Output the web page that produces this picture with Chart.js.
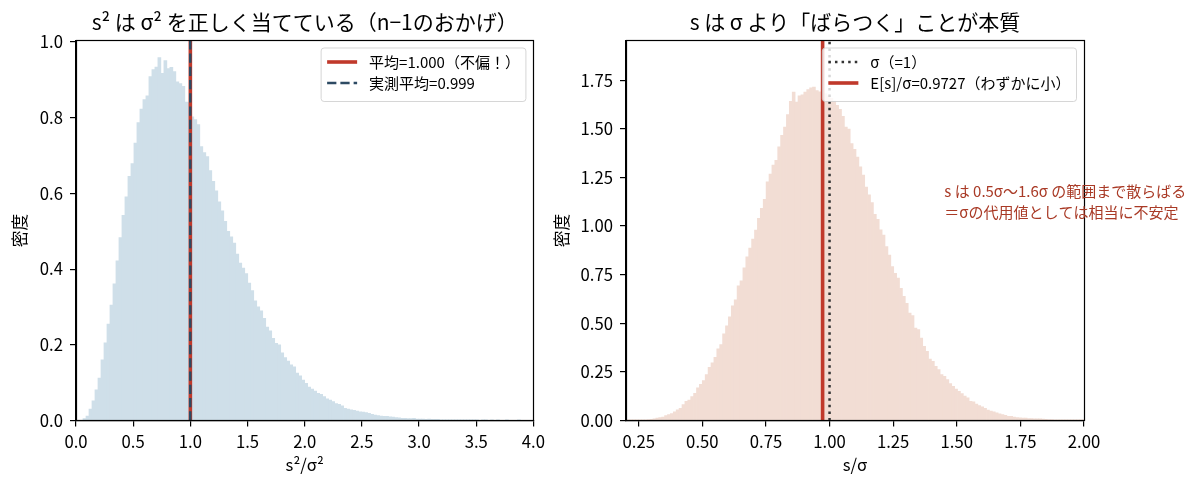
<!DOCTYPE html>
<html lang="ja">
<head>
<meta charset="utf-8">
<script src="https://cdn.jsdelivr.net/npm/chart.js@4.4.1/dist/chart.umd.min.js"></script>
<style>
  body { margin: 0; background: #fff; }
  #wrap { position: relative; width: 1204px; height: 491px; }
  canvas { position: absolute; top: 0; }
  #leftChart { left: 0; }
  #rightChart { left: 550px; }
</style>
</head>
<body>
<div id="wrap">
  <canvas id="leftChart" width="550" height="491"></canvas>
  <canvas id="rightChart" width="654" height="491"></canvas>
</div>
<script>
const FONT = "'Noto Sans CJK JP', 'Noto Sans', sans-serif";

// left panel: s^2/sigma^2 histogram (density), bins of equal width
const s2BinStart = 0.061;
const s2BinWidth = 0.0262;
const s2Density = [
  0.005, 0.012, 0.030, 0.052, 0.081, 0.112, 0.160, 0.205, 0.255, 0.305, 0.361, 0.422, 0.483,
  0.542, 0.591, 0.645, 0.679, 0.733, 0.787, 0.823, 0.848, 0.858, 0.909, 0.927, 0.934, 0.959,
  0.917, 0.951, 0.930, 0.933, 0.922, 0.895, 0.890, 0.883, 0.841, 0.840, 0.802, 0.795, 0.782,
  0.724, 0.708, 0.697, 0.660, 0.632, 0.607, 0.578, 0.554, 0.526,
  0.500, 0.485, 0.469, 0.440, 0.416, 0.403, 0.388, 0.363, 0.343, 0.316, 0.300, 0.290,
  0.270, 0.247, 0.237, 0.217, 0.204, 0.200, 0.179, 0.166, 0.157, 0.147, 0.142, 0.125,
  0.118, 0.107, 0.098, 0.088, 0.083, 0.078, 0.072, 0.069, 0.063, 0.057,
  0.054, 0.050, 0.045, 0.043, 0.039, 0.032, 0.030, 0.028, 0.027, 0.025,
  0.023, 0.022, 0.021, 0.019, 0.016, 0.014, 0.013, 0.012, 0.011, 0.011,
  0.010, 0.009, 0.008, 0.007, 0.006, 0.006, 0.005, 0.005, 0.006, 0.004, 0.004,
  0.004, 0.003, 0.004, 0.003, 0.003, 0.003, 0.002, 0.002, 0.001, 0.002, 0.002, 0.001, 0.001,
  0.002, 0.001, 0.001, 0.001, 0.001, 0.001, 0, 0.001, 0.001, 0, 0.001, 0, 0.001, 0, 0,
  0.001, 0, 0, 0, 0.001, 0, 0, 0, 0, 0
];
const s2TrueMean = 1.000;
const s2ObservedMean = 0.999;
const s2XTicks = [0, 0.5, 1.0, 1.5, 2.0, 2.5, 3.0, 3.5, 4.0];
const s2YTicks = [0, 0.2, 0.4, 0.6, 0.8, 1.0];
const s2XRange = [0, 4.0];
const s2YRange = [0, 1.004];

// right panel: s/sigma histogram (density)
const sBinStart = 0.192;
const sBinWidth = 0.0114;
const sDensity = [
  0.001, 0.001, 0.001, 0.002, 0.002, 0.003, 0.003, 0.004, 0.005, 0.006,
  0.009, 0.012, 0.015, 0.018, 0.025, 0.031, 0.036, 0.045, 0.055, 0.062,
  0.082, 0.099, 0.105, 0.123, 0.140, 0.168, 0.186, 0.205, 0.236, 0.274,
  0.296, 0.325, 0.369, 0.390, 0.446, 0.487, 0.533, 0.590, 0.621, 0.692,
  0.718, 0.785, 0.841, 0.887, 0.933, 0.979,
  1.040, 1.091, 1.137, 1.227, 1.267, 1.313, 1.338, 1.407, 1.467, 1.509,
  1.573, 1.641, 1.689, 1.637, 1.670, 1.675, 1.689, 1.701, 1.711, 1.714,
  1.697, 1.690, 1.700, 1.680, 1.670, 1.656, 1.643, 1.620, 1.600, 1.564,
  1.509, 1.499, 1.424, 1.395, 1.355, 1.304, 1.262, 1.200, 1.160, 1.120,
  1.060, 1.035, 0.980,
  0.954, 0.894, 0.851, 0.791, 0.757, 0.732, 0.680, 0.638, 0.603, 0.552,
  0.540, 0.475, 0.467, 0.424, 0.381, 0.356, 0.316, 0.304, 0.279, 0.262,
  0.236, 0.227, 0.210, 0.190, 0.176, 0.162, 0.150, 0.138, 0.125, 0.116,
  0.099, 0.096, 0.085, 0.077, 0.070, 0.062, 0.053, 0.048, 0.044, 0.039,
  0.034, 0.031, 0.027, 0.022, 0.021, 0.017, 0.015, 0.014, 0.012, 0.012,
  0.010, 0.010, 0.009, 0.009, 0.008, 0.007, 0.006, 0.005, 0.005, 0.004,
  0.004, 0.003, 0.003, 0.003, 0.002, 0.002, 0.002, 0.002, 0.001, 0.001
];
const sSigma = 1;
const sExpected = 0.9727;
const sXTicks = [0.25, 0.50, 0.75, 1.00, 1.25, 1.50, 1.75, 2.00];
const sYTicks = [0, 0.25, 0.50, 0.75, 1.00, 1.25, 1.50, 1.75];
const sXRange = [0.2, 2.0];
const sYRange = [0, 1.954];

const noteLines = ['s は 0.5σ〜1.6σ の範囲まで散らばる', '＝σの代用値としては相当に不安定'];

const RED = '#c0392b';
const NAVY = '#2d4a63';
const TICK_FS = 16.7;
const SMALL_FS = 15;

Chart.defaults.font.family = FONT;
Chart.defaults.color = '#000';

function histPoints(start, width, values) {
  return values.map((v, i) => ({ x: start + (i + 0.5) * width, y: v }));
}
function vline(x, yTop) {
  return [{ x: x, y: 0 }, { x: x, y: yTop }];
}
function alignPx(p) {
  return Math.round(p - 0.5) + 0.5;
}

// frame on all four sides, legend box, optional note
const decoPlugin = {
  id: 'deco',
  afterDatasetsDraw(chart, args, opts) {
    const { ctx, chartArea: a } = chart;
    ctx.save();
    const l = alignPx(a.left), r = alignPx(a.right), t = alignPx(a.top), b = alignPx(a.bottom);
    ctx.strokeStyle = '#000';
    ctx.lineWidth = 1.2;
    ctx.strokeRect(l, t, r - l, b - t);

    const fs = SMALL_FS;
    const items = chart.data.datasets.filter(d => d.type === 'line');
    ctx.font = fs + 'px ' + FONT;
    const tw = Math.max(...items.map(d => ctx.measureText(d.label).width));
    const pad = 0.4 * fs, hl = 2 * fs, hgap = 0.8 * fs;
    const w = pad + hl + hgap + tw + pad;
    const h = 53.5;
    const x0 = a.right - 0.5 * fs - w, y0 = a.top + 0.5 * fs;
    ctx.beginPath();
    if (ctx.roundRect) ctx.roundRect(x0, y0, w, h, 3); else ctx.rect(x0, y0, w, h);
    ctx.fillStyle = 'rgba(255,255,255,0.8)';
    ctx.fill();
    ctx.strokeStyle = 'rgba(204,204,204,0.8)';
    ctx.lineWidth = 1;
    ctx.stroke();
    items.forEach((d, k) => {
      const cy = y0 + 14 + k * 21;
      ctx.beginPath();
      ctx.setLineDash(d.borderDash || []);
      ctx.strokeStyle = d.borderColor;
      ctx.lineWidth = d.borderWidth;
      ctx.moveTo(x0 + pad, cy);
      ctx.lineTo(x0 + pad + hl, cy);
      ctx.stroke();
      ctx.setLineDash([]);
      ctx.fillStyle = '#000';
      ctx.textBaseline = 'middle';
      ctx.textAlign = 'left';
      ctx.fillText(d.label, x0 + pad + hl + hgap, cy);
    });

    if (opts.note) {
      const n = opts.note;
      const nx = a.left + n.fx * (a.right - a.left);
      const ny = a.top + n.fy * (a.bottom - a.top);
      ctx.fillStyle = n.color;
      ctx.textBaseline = 'middle';
      ctx.textAlign = 'left';
      n.lines.forEach((txt, k) => {
        ctx.fillText(txt, nx, ny + (k - (n.lines.length - 1) / 2) * 21);
      });
    }
    ctx.restore();
  }
};

function makeOptions(cfg) {
  return {
    responsive: false,
    animation: false,
    layout: { padding: { left: 0, right: cfg.padRight, top: 0, bottom: 0 } },
    plugins: {
      legend: { display: false },
      tooltip: { enabled: false },
      title: {
        display: true,
        text: cfg.title,
        fullSize: false,
        color: '#000',
        font: { size: 21, weight: 'normal' },
        padding: { top: 9.4, bottom: 5.9 }
      },
      deco: { note: cfg.note || null }
    },
    scales: {
      x: {
        type: 'linear',
        min: cfg.xRange[0],
        max: cfg.xRange[1],
        offset: false,
        grid: { offset: false, drawOnChartArea: false, drawTicks: true, tickLength: 6, lineWidth: 1.2, color: '#000' },
        border: { display: true, color: '#000', width: 1.2 },
        afterBuildTicks: s => { s.ticks = cfg.xTicks.map(v => ({ value: v })); },
        afterFit: s => { s.height = 70.5; },
        ticks: {
          autoSkip: false, maxRotation: 0, padding: 5,
          font: { size: TICK_FS },
          callback: v => v.toFixed(cfg.xDigits)
        },
        title: { display: true, text: cfg.xLabel, font: { size: TICK_FS }, padding: { top: 0, bottom: 16 } }
      },
      y: {
        min: cfg.yRange[0],
        max: cfg.yRange[1],
        grid: { drawOnChartArea: false, drawTicks: true, tickLength: 6, lineWidth: 1.2, color: '#000' },
        border: { display: true, color: '#000', width: 1.2 },
        afterBuildTicks: s => { s.ticks = cfg.yTicks.map(v => ({ value: v })); },
        afterFit: s => { s.width = 76; },
        ticks: {
          autoSkip: false, padding: 7,
          font: { size: TICK_FS },
          callback: v => v.toFixed(cfg.yDigits)
        },
        title: { display: true, text: '密度', font: { size: TICK_FS }, padding: { top: cfg.yTitlePad, bottom: 0 } }
      }
    }
  };
}

new Chart(document.getElementById('leftChart'), {
  type: 'bar',
  data: {
    datasets: [
      {
        type: 'line',
        label: '平均=1.000（不偏！）',
        data: vline(s2TrueMean, s2YRange[1]),
        borderColor: RED, borderWidth: 3.6, pointRadius: 0, fill: false, order: 2
      },
      {
        type: 'line',
        label: '実測平均=0.999',
        data: vline(s2ObservedMean, s2YRange[1]),
        borderColor: NAVY, borderWidth: 2.5, borderDash: [9.25, 4], pointRadius: 0, fill: false, order: 1
      },
      {
        type: 'bar',
        label: 's2',
        data: histPoints(s2BinStart, s2BinWidth, s2Density),
        backgroundColor: '#cfdfe9',
        borderWidth: 0, barPercentage: 1, categoryPercentage: 1, order: 3
      }
    ]
  },
  options: makeOptions({
    title: 's² は σ² を正しく当てている（n−1のおかげ）',
    xLabel: 's²/σ²', xRange: s2XRange, yRange: s2YRange,
    xTicks: s2XTicks, yTicks: s2YTicks, xDigits: 1, yDigits: 1,
    padRight: 16, yTitlePad: 10
  }),
  plugins: [decoPlugin]
});

new Chart(document.getElementById('rightChart'), {
  type: 'bar',
  data: {
    datasets: [
      {
        type: 'line',
        label: 'σ（=1）',
        data: vline(sSigma, sYRange[1]),
        borderColor: '#333333', borderWidth: 2.5, borderDash: [2.5, 4.1], pointRadius: 0, fill: false, order: 1
      },
      {
        type: 'line',
        label: 'E[s]/σ=0.9727（わずかに小）',
        data: vline(sExpected, sYRange[1]),
        borderColor: RED, borderWidth: 3.6, pointRadius: 0, fill: false, order: 2
      },
      {
        type: 'bar',
        label: 's',
        data: histPoints(sBinStart, sBinWidth, sDensity),
        backgroundColor: '#f2ddd4',
        borderWidth: 0, barPercentage: 1, categoryPercentage: 1, order: 3
      }
    ]
  },
  options: makeOptions({
    title: 's は σ より「ばらつく」ことが本質',
    xLabel: 's/σ', xRange: sXRange, yRange: sYRange,
    xTicks: sXTicks, yTicks: sYTicks, xDigits: 2, yDigits: 2,
    padRight: 120, yTitlePad: 2,
    note: { lines: noteLines, fx: 0.695, fy: 0.424, color: '#a93a26' }
  }),
  plugins: [decoPlugin]
});
</script>
</body>
</html>
